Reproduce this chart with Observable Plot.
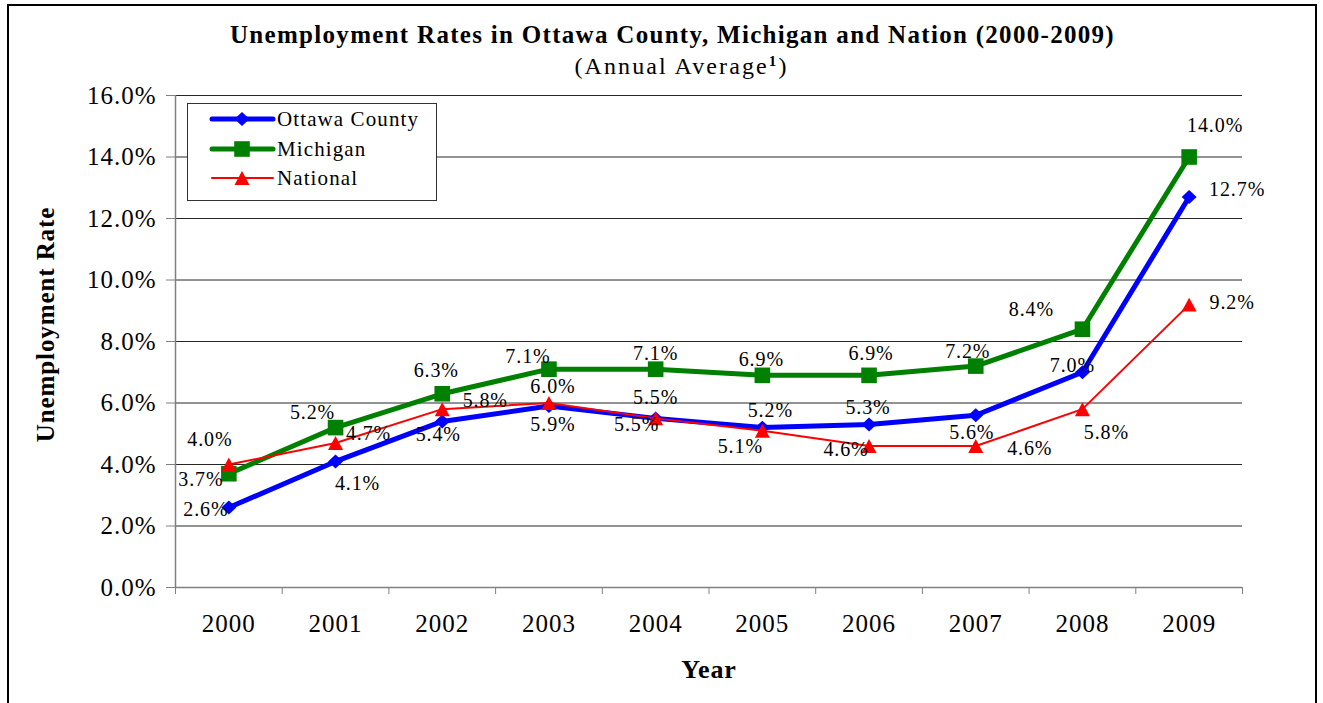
<!DOCTYPE html>
<html><head><meta charset="utf-8">
<script src="https://cdn.jsdelivr.net/npm/d3@7"></script>
<script src="https://cdn.jsdelivr.net/npm/@observablehq/plot@0.6"></script>
<style>
body{margin:0;background:#fff;}
#wrap{position:relative;width:1323px;height:703px;overflow:hidden;font-family:"Liberation Serif","Times New Roman",serif;color:#000;}
#frame{position:absolute;left:7px;top:4px;width:1310px;height:740px;border:2px solid #000;box-sizing:border-box;pointer-events:none;}
#title{position:absolute;left:11px;width:1323px;top:20px;text-align:center;font-weight:bold;font-size:25px;letter-spacing:1.3px;line-height:30px;}
#subtitle{position:absolute;left:20px;width:1323px;top:51px;text-align:center;font-size:24px;letter-spacing:2.1px;line-height:30px;}
#subtitle sup{font-weight:bold;font-size:15px;vertical-align:8px;line-height:0;}
#chart{position:absolute;left:0;top:0;}
#legend{position:absolute;left:187px;top:103px;}
#chart svg, #chart svg text, #legend svg text{font-family:"Liberation Serif","Times New Roman",serif !important;}
g[aria-label="y-axis tick label"] text, g[aria-label="x-axis tick label"] text{letter-spacing:1px;}
</style>
</head><body>
<div id="wrap">
  <div id="chart"></div>
  <div id="title">Unemployment Rates in Ottawa County, Michigan and Nation (2000-2009)</div>
  <div id="subtitle">(Annual Average<sup>1</sup>)</div>
  <div id="legend"></div>
  <div id="frame"></div>
</div>
<script>
// ---- data ----
const years = [2000, 2001, 2002, 2003, 2004, 2005, 2006, 2007, 2008, 2009];
const ottawa = [2.6, 4.1, 5.4, 5.9, 5.5, 5.2, 5.3, 5.6, 7.0, 12.7];
const michigan = [3.7, 5.2, 6.3, 7.1, 7.1, 6.9, 6.9, 7.2, 8.4, 14.0];
const national = [4.0, 4.7, 5.8, 6.0, 5.5, 5.1, 4.6, 4.6, 5.8, 9.2];
const seriesNames = ["Ottawa County", "Michigan", "National"];
const yTicks = [0, 2, 4, 6, 8, 10, 12, 14, 16];
const xTitle = "Year";
const yTitle = "Unemployment Rate";

// ---- layout / style (not data) ----
const colors = ["#0000FF", "#008000", "#FF0000"];
const lineWidths = [5, 5, 2];
const labelOffsets = [
  // Ottawa County
  [[-23, 2], [22, 22], [-4, 13], [4, 19], [0, -21], [8, -17], [-1, -17], [-4, 17], [-10, -7], [48, -7]],
  // Michigan
  [[-28, 6], [-23, -15], [-6, -23], [-21, -13], [0, -16], [-1, -16], [2, -22], [-8, -15], [-51, -20], [26, -31]],
  // National
  [[-19, -25], [33, -9], [43, -9], [4, -16], [-19, 6], [-22, 16], [-23, 4], [54, 3], [24, 23], [43, -2]]
];

// custom symbols sized from r
const diamondSym = {draw(ctx, size) {const r = Math.sqrt(size / Math.PI); const h = r * 0.93; ctx.moveTo(0, -h); ctx.lineTo(r, 0); ctx.lineTo(0, h); ctx.lineTo(-r, 0); ctx.closePath();}};
const squareSym = {draw(ctx, size) {const r = Math.sqrt(size / Math.PI); ctx.rect(-r, -r, 2 * r, 2 * r);}};
const triangleSym = {draw(ctx, size) {const r = Math.sqrt(size / Math.PI); const h = r * 0.93; ctx.moveTo(0, -h); ctx.lineTo(r, h); ctx.lineTo(-r, h); ctx.closePath();}};
const symbols = [diamondSym, squareSym, triangleSym];
const symbolR = [7.5, 7.8, 7.5];

const seriesValues = [ottawa, michigan, national];
const rows = seriesValues.map((vals, s) => years.map((yr, i) => ({year: yr, value: vals[i], series: seriesNames[s], s, i})));

const boundaries = [...years.map(y => y - 0.5), years[years.length - 1] + 0.5];

const marks = [
  Plot.gridY(yTicks, {stroke: "#000", strokeOpacity: 0.85, strokeWidth: 1}),
  Plot.ruleX([boundaries[0]], {stroke: "#808080", strokeWidth: 1.5}),
  Plot.ruleY([0], {stroke: "#808080", strokeWidth: 1.5}),
  Plot.axisY({ticks: yTicks, tickFormat: d => d.toFixed(1) + "%", tickSize: 9, tickPadding: 10, fontSize: 25, stroke: "#808080", label: null}),
  Plot.axisX({ticks: boundaries, tickFormat: () => "", tickSize: 7, stroke: "#808080", label: null}),
  Plot.axisX({ticks: years, tickFormat: d => String(d), tickSize: 0, tickPadding: 27, fontSize: 25, label: null}),
  Plot.text([xTitle], {frameAnchor: "bottom", dy: 90, fontWeight: "bold", fontSize: 26}),
  Plot.text([yTitle], {frameAnchor: "left", textAnchor: "middle", rotate: -90, dx: -130, dy: -17, fontWeight: "bold", fontSize: 25})
];
rows.forEach((data, s) => {
  marks.push(Plot.line(data, {x: "year", y: "value", stroke: colors[s], strokeWidth: lineWidths[s]}));
  marks.push(Plot.dot(data, {x: "year", y: "value", fill: colors[s], stroke: "none", symbol: () => symbols[s], r: symbolR[s]}));
});
rows.forEach((data, s) => {
  data.forEach((d, i) => {
    marks.push(Plot.text([d], {x: "year", y: "value", text: d => d.value.toFixed(1) + "%", dx: labelOffsets[s][i][0], dy: labelOffsets[s][i][1], fontSize: 20, fill: "#000"}));
  });
});

const chart = Plot.plot({
  width: 1323,
  height: 703,
  marginLeft: 175,
  marginRight: 81,
  marginTop: 95,
  marginBottom: 116,
  style: {fontFamily: "Liberation Serif, Times New Roman, serif", fontSize: "20px", color: "#000", background: "transparent"},
  x: {domain: [boundaries[0], boundaries[boundaries.length - 1]], axis: null, label: null},
  y: {domain: [0, 16], axis: null, label: null},
  marks
});
const sel = d3.select(chart).selectAll("text");
sel.filter(function () { return this.textContent === yTitle || this.textContent === xTitle; }).style("letter-spacing", "0.9px");
sel.filter(function () { return /^\d+\.\d%$/.test(this.textContent) && this.closest('g[aria-label="text"]'); }).style("letter-spacing", "0.9px");
document.getElementById("chart").appendChild(chart);

// ---- legend ----
const lg = d3.select("#legend").append("svg").attr("width", 251).attr("height", 99);
lg.append("rect").attr("x", 0.5).attr("y", 0.5).attr("width", 249).attr("height", 97).attr("fill", "#fff").attr("stroke", "#333").attr("stroke-width", 1);
const rowY = [16, 46, 75];
seriesNames.forEach((name, s) => {
  const g = lg.append("g").attr("transform", `translate(0,${rowY[s]})`);
  g.append("line").attr("x1", 25).attr("x2", 86).attr("y1", 0).attr("y2", 0).attr("stroke", colors[s]).attr("stroke-width", lineWidths[s]).attr("stroke-linecap", "round");
  g.append("path").attr("transform", "translate(55,0)").attr("d", d3.symbol(symbols[s], Math.PI * symbolR[s] * symbolR[s])()).attr("fill", colors[s]);
  g.append("text").attr("x", 90).attr("y", 0).attr("dy", "0.35em").attr("font-size", 21).attr("letter-spacing", "1.1px").text(name);
});
</script>
</body></html>
